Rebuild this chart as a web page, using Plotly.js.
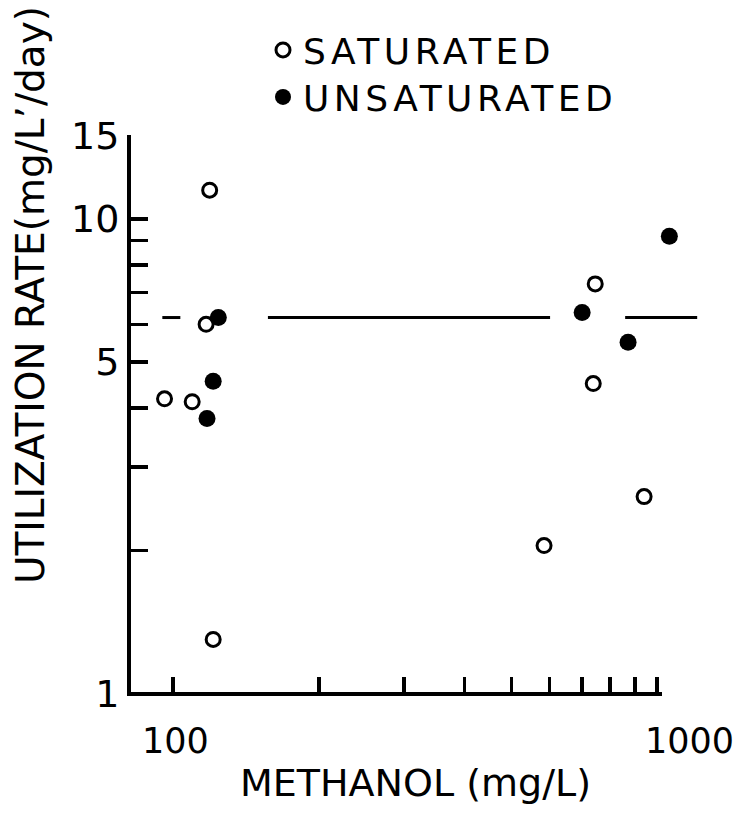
<!DOCTYPE html>
<html>
<head>
<meta charset="utf-8">
<script src="https://cdn.plot.ly/plotly-3.0.1.min.js"></script>
<style>
  html, body { margin: 0; padding: 0; background: #ffffff; }
  #chart { width: 739px; height: 816px; }
  text[data-unformatted="SATURATED"],
  text[data-unformatted="UNSATURATED"] { letter-spacing: 4.5px; }
</style>
</head>
<body>
<div id="chart"></div>
<script>
// Methanol concentration (mg/L) against utilization rate (mg/L/day)
const satMethanol   = [119, 117, 96, 109.5, 121, 745, 738, 940, 584];
const satRate       = [11.5, 6.0, 4.18, 4.12, 1.3, 7.3, 4.5, 2.6, 2.05];
const unsatMethanol = [124, 121, 117.5, 1060, 700, 871];
const unsatRate     = [6.2, 4.55, 3.8, 9.2, 6.35, 5.5];

// Mean utilization rate, drawn as a broken horizontal line
const meanRate = 6.2;
const meanSegments = [[95, 103.5], [157, 601], [859, 1210]];

const seriesNames = ['SATURATED', 'UNSATURATED'];
const xTickVals   = [100, 200, 300, 400, 500, 600, 700, 800, 900, 1000];
const xTickLabels = ['100', '1000'];
const xLabelVals  = [100, 1000];
const yTickVals   = [1, 2, 3, 4, 5, 6, 7, 8, 9, 10, 15];
const yTickLabels = ['1', '', '', '', '5', '', '', '', '', '10', '15'];

const FONT = 'DejaVu Sans, Verdana, sans-serif';
const INK = '#000000';

// geometry of the plotting area in pixels
const W = 739, H = 816;
const ML = 131, MR = 39, MT = 135, MB = 122;
const plotW = W - ML - MR;
const plotH = H - MT - MB;
const pxToPaperX = px => (px - ML) / plotW;
const pxToPaperY = py => (H - MB - py) / plotH;

// mean line: segments separated by gaps
const meanX = [], meanY = [];
meanSegments.forEach((seg, i) => {
  if (i > 0) { meanX.push(null); meanY.push(null); }
  meanX.push(seg[0], seg[1]);
  meanY.push(meanRate, meanRate);
});

const traces = [
  {
    x: meanX, y: meanY, type: 'scatter', mode: 'lines',
    line: { color: INK, width: 3 }, connectgaps: false,
    showlegend: false, hoverinfo: 'skip'
  },
  {
    x: satMethanol, y: satRate, type: 'scatter', mode: 'markers',
    name: seriesNames[0], cliponaxis: false, legend: 'legend',
    marker: { symbol: 'circle-open', size: 14, color: INK, line: { width: 3, color: INK } }
  },
  {
    x: unsatMethanol, y: unsatRate, type: 'scatter', mode: 'markers',
    name: seriesNames[1], cliponaxis: false, legend: 'legend2',
    marker: { symbol: 'circle', size: 17, color: INK }
  }
];

const annotations = xLabelVals.map((v, i) => ({
  xref: 'x', yref: 'paper',
  x: Math.log10(v), y: pxToPaperY(741),
  text: xTickLabels[i], showarrow: false,
  xanchor: 'center', yanchor: 'middle',
  xshift: v === 1000 ? 32 : 2,
  font: { family: FONT, size: 35, color: INK }
}));

annotations.push({
  xref: 'paper', yref: 'paper',
  x: pxToPaperX(30), y: pxToPaperY(295),
  text: 'UTILIZATION RATE(mg/L\u2019/day)', textangle: -90,
  showarrow: false, xanchor: 'center', yanchor: 'middle',
  font: { family: FONT, size: 39, color: INK }
});

const legendStyle = (topPx) => ({
  x: pxToPaperX(263), y: pxToPaperY(topPx), xanchor: 'left', yanchor: 'top',
  font: { family: FONT, size: 36, color: INK },
  bgcolor: 'rgba(0,0,0,0)', borderwidth: 0,
  tracegroupgap: 0, itemwidth: 30
});

const layout = {
  width: W, height: H, autosize: false,
  margin: { l: ML, r: MR, t: MT, b: MB, pad: 0, autoexpand: false },
  paper_bgcolor: '#ffffff', plot_bgcolor: '#ffffff',
  font: { family: FONT, color: INK },
  showlegend: true,
  legend: legendStyle(20),
  legend2: legendStyle(67),
  xaxis: {
    type: 'log',
    range: [1.913, 1.913 + plotW / 484],
    showline: false, showgrid: false, zeroline: false,
    ticks: 'inside', ticklen: 17, tickwidth: 3.5, tickcolor: INK,
    tickmode: 'array', tickvals: xTickVals, showticklabels: false,
    title: { text: 'METHANOL (mg/L)', font: { family: FONT, size: 38, color: INK }, standoff: 75 }
  },
  yaxis: {
    type: 'log',
    range: [-0.001, Math.log10(15) + 0.001],
    showline: true, linewidth: 4, linecolor: INK,
    showgrid: false, zeroline: false,
    ticks: 'inside', ticklen: 17, tickwidth: 3.5, tickcolor: INK,
    tickmode: 'array', tickvals: yTickVals, ticktext: yTickLabels,
    tickfont: { family: FONT, size: 38, color: INK },
    ticklabelstandoff: 0
  },
  shapes: [{
    type: 'line', xref: 'paper', yref: 'paper',
    x0: pxToPaperX(127), x1: pxToPaperX(662), y0: 0, y1: 0,
    line: { color: INK, width: 4 }
  }],
  annotations: annotations
};

Plotly.newPlot('chart', traces, layout, { displayModeBar: false, staticPlot: true })
  .then(gd => {
    // widen the legend lettering and let the wider text show in full
    gd.querySelectorAll('text').forEach(t => {
      if (!seriesNames.includes(t.textContent)) return;
      t.style.letterSpacing = '4.5px';
      let node = t.parentNode;
      while (node && node !== gd) {
        if (node.removeAttribute) node.removeAttribute('clip-path');
        node = node.parentNode;
      }
    });
  });
</script>
</body>
</html>
